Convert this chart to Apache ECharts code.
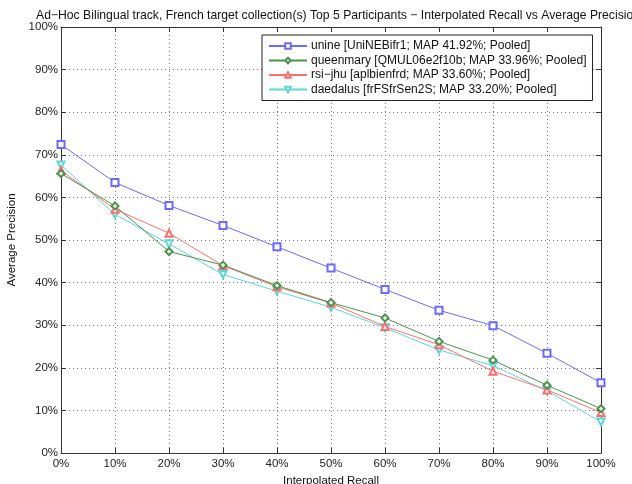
<!DOCTYPE html>
<html><head><meta charset="utf-8">
<script src="https://cdn.jsdelivr.net/npm/echarts@6/dist/echarts.min.js"></script>
<style>html,body{margin:0;padding:0;background:#fff}#c{width:632px;height:484px}</style>
</head><body><div id="c"></div>
<script>
const recall = [0,10,20,30,40,50,60,70,80,90,100];
const tickLabels = ['0%','10%','20%','30%','40%','50%','60%','70%','80%','90%','100%'];
const seriesNames = [
  'unine [UniNEBifr1; MAP 41.92%; Pooled]',
  'queenmary [QMUL06e2f10b; MAP 33.96%; Pooled]',
  'rsi\u2212jhu [aplbienfrd; MAP 33.60%; Pooled]',
  'daedalus [frFSfrSen2S; MAP 33.20%; Pooled]'
];
const unine     = [72.4,63.5,58.1,53.4,48.4,43.4,38.4,33.5,29.9,23.4,16.5];
const queenmary = [65.6,58.0,47.3,44.1,39.3,35.3,31.7,26.2,21.8,15.9,10.4];
const rsijhu    = [66.3,57.2,51.6,44.0,39.0,35.2,29.7,25.4,19.2,14.8,9.5];
const daedalus  = [67.6,56.0,49.1,41.9,38.0,34.2,29.4,24.2,20.5,14.6,7.3];

const colors = ['#6a6aff','#4c944c','#ff6e6e','#5cd6d6'];
const symbols = ['emptyRect','emptyDiamond','emptyTriangle','emptyTriangle'];
const rotates = [0,0,0,180];
const data = [unine,queenmary,rsijhu,daedalus];
const font = 'Liberation Sans, Arial, sans-serif';

const chart = echarts.init(document.getElementById('c'));
const gridLine = {show:true, lineStyle:{color:'#777', type:[1,3], width:1}};
const axisCommon = {
  type:'value', min:0, max:100, interval:10,
  axisLine:{show:true, onZero:false, lineStyle:{color:'#333', width:1}},
  axisTick:{show:true, inside:true, length:5, lineStyle:{color:'#333'}},
  splitLine: gridLine
};
chart.setOption({
  animation:false,
  title:{text:'Ad\u2212Hoc Bilingual track, French target collection(s) Top 5 Participants \u2212 Interpolated Recall vs Average Precision',
    left:31, top:5, textStyle:{fontFamily:font, fontSize:12.2, fontWeight:'normal', color:'#111'}},
  grid:{left:61, right:31, top:27, bottom:31, show:false, outerBoundsMode:'none', containLabel:false},
  legend:{
    orient:'vertical', left:262, top:35,
    data:seriesNames,
    itemWidth:38, itemHeight:7, itemGap:2.5,
    padding:[5,6,5,6],
    backgroundColor:'#fff', borderColor:'#222', borderWidth:1,
    textStyle:{fontFamily:font, fontSize:12, color:'#111', lineHeight:12, padding:[0,0,0,-1]}
  },
  xAxis:[
    Object.assign({}, axisCommon, {position:'bottom',
      name:'Interpolated Recall', nameLocation:'middle', nameGap:18,
      nameTextStyle:{fontFamily:font, fontSize:11.5, color:'#111'},
      axisLabel:{fontFamily:font, fontSize:11.5, color:'#222', margin:5, formatter:v=>tickLabels[v/10]}}),
    Object.assign({}, axisCommon, {position:'top', axisLabel:{show:false}, splitLine:{show:false}})
  ],
  yAxis:[
    Object.assign({}, axisCommon, {position:'left',
      name:'Average Precision', nameLocation:'middle', nameGap:39,
      nameTextStyle:{fontFamily:font, fontSize:11.5, color:'#111'},
      axisLabel:{fontFamily:font, fontSize:11.5, color:'#222', margin:3, formatter:v=>tickLabels[v/10]}}),
    Object.assign({}, axisCommon, {position:'right', axisLabel:{show:false}, splitLine:{show:false}})
  ],
  series: data.map((arr,i)=>({
    name:seriesNames[i], type:'line',
    data:arr.map((v,j)=>[recall[j], v]),
    symbol:symbols[i], symbolRotate:rotates[i], symbolSize:7, showAllSymbol:true,
    lineStyle:{color:colors[i], width:1},
    itemStyle:{color:colors[i], borderColor:colors[i], borderWidth:1},
    emphasis:{disabled:true}, z:2+(4-i)
  }))
});
</script></body></html>
